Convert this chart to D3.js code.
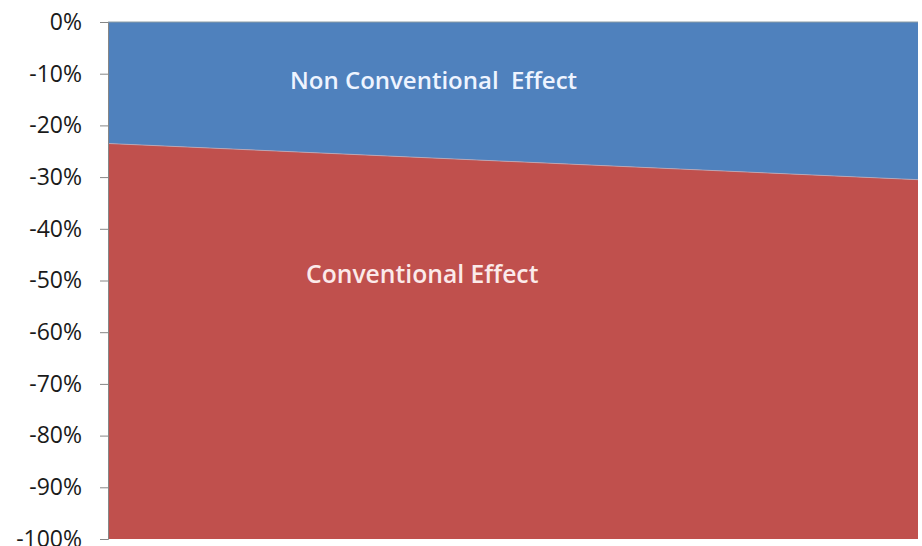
<!DOCTYPE html>
<html>
<head>
<meta charset="utf-8">
<script src="https://cdn.jsdelivr.net/npm/d3@7"></script>
<style>
  html, body { margin: 0; padding: 0; background: #fff; }
  svg { display: block; }
</style>
</head>
<body>
<svg id="chart" width="922" height="546"></svg>
<script>
// Two end points of the period, stacked downward from 0%
const points = [0, 1];
const nonConventional = [-23.5, -30.5];
const conventional = [-76.5, -69.5];
const yTicks = [0, -10, -20, -30, -40, -50, -60, -70, -80, -90, -100];
const seriesNames = ["Non Conventional  Effect", "Conventional Effect"];

const svg = d3.select("#chart");
const margin = { top: 22, right: 4, bottom: 7, left: 108 };
const W = 922, H = 546;
const innerW = W - margin.left - margin.right;
const innerH = H - margin.top - margin.bottom;

const g = svg.append("g").attr("transform", `translate(${margin.left},${margin.top})`);

const x = d3.scaleLinear().domain([0, 1]).range([0, innerW]);
const y = d3.scaleLinear().domain([-100, 0]).range([innerH, 0]);

// Build stacked rows
const rows = points.map((p, i) => ({ p, nc: nonConventional[i], c: conventional[i] }));
const stack = d3.stack().keys(["nc", "c"]).offset(d3.stackOffsetDiverging);
const layers = stack(rows);

const colors = ["#4f81bd", "#c0504d"];

const area = d3.area()
  .x(d => x(d.data.p))
  .y0(d => y(d[0]))
  .y1(d => y(d[1]));

g.selectAll("path.layer")
  .data(layers)
  .join("path")
  .attr("class", "layer")
  .attr("fill", (d, i) => colors[i])
  .attr("d", area);

// faint seam between the two areas
g.append("path")
  .datum(layers[0])
  .attr("fill", "none")
  .attr("stroke", "#b9b4c4")
  .attr("stroke-width", 1)
  .attr("opacity", 0.7)
  .attr("d", d3.line().x(d => x(d.data.p)).y(d => y(d[0])));

// Y axis
const yAxis = d3.axisLeft(y)
  .tickValues(yTicks)
  .tickSize(8)
  .tickPadding(18)
  .tickFormat(d => d + "%");

const ax = g.append("g").call(yAxis);
ax.select(".domain").attr("stroke", "#868686");
ax.selectAll(".tick line").attr("stroke", "#868686");
ax.selectAll(".tick text")
  .attr("fill", "#1a1a1a")
  .style("font-family", "'Open Sans', 'Liberation Sans', sans-serif")
  .style("font-size", "23px");

// top edge line
g.append("line")
  .attr("x1", 0).attr("x2", innerW)
  .attr("y1", 0).attr("y2", 0)
  .attr("stroke", "#8c9ca4").attr("stroke-width", 1);

// Series labels
const labelFont = "'Open Sans', 'Liberation Sans', sans-serif";
g.append("text")
  .attr("x", 290 - margin.left).attr("y", y(-12.95))
  .attr("fill", "#eef4ff")
  .style("font-family", labelFont)
  .style("font-size", "24px")
  .style("font-weight", "600")
  .attr("xml:space", "preserve")
  .text(seriesNames[0]);

g.append("text")
  .attr("x", 306 - margin.left).attr("y", y(-50.5))
  .attr("fill", "#fbeaea")
  .style("font-family", labelFont)
  .style("font-size", "24.7px")
  .style("font-weight", "600")
  .text(seriesNames[1]);
</script>
</body>
</html>
